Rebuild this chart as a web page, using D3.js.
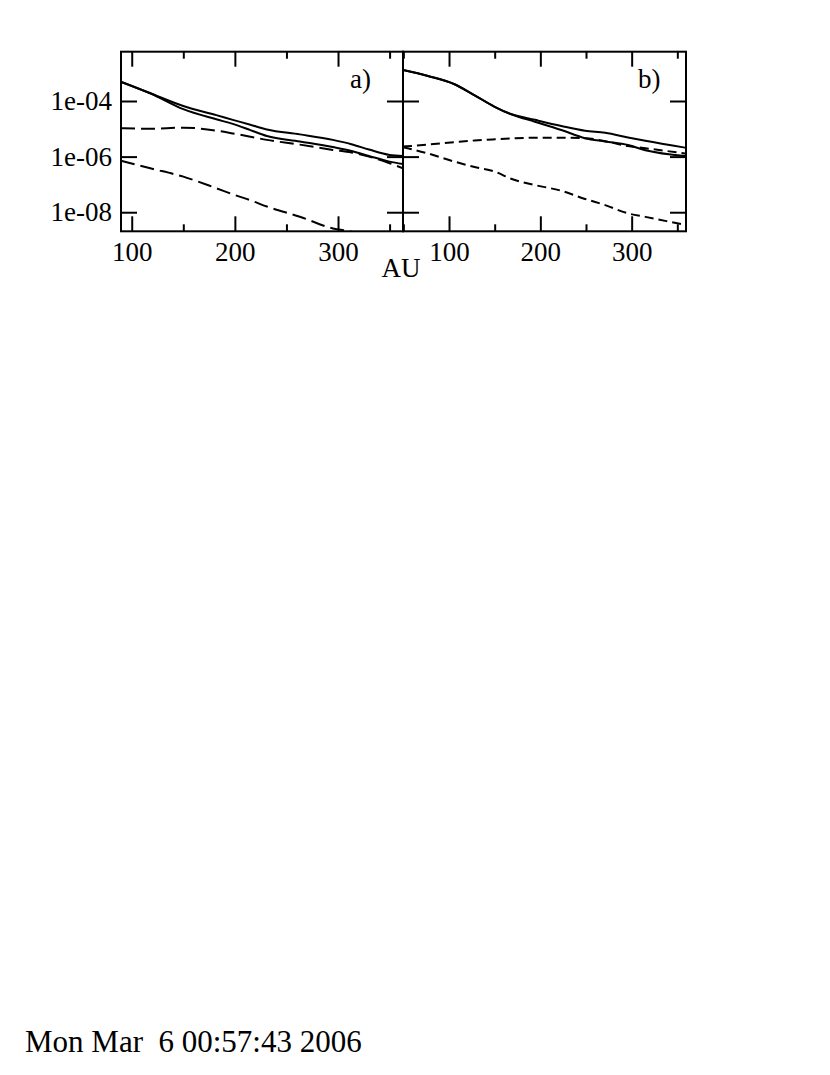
<!DOCTYPE html>
<html>
<head>
<meta charset="utf-8">
<script src="https://cdn.jsdelivr.net/npm/d3@7"></script>
<style>
  html, body { margin: 0; padding: 0; background: #fff; }
  svg { display: block; }
  text { font-family: "Liberation Serif", "DejaVu Serif", serif; fill: #000; }
</style>
</head>
<body>
<svg id="chart" width="830" height="1075"></svg>
<script>
// ---------------- DATA ----------------
// Panel a) x in AU, values (log-scale)
const auA = [89.6, 118, 150, 182, 198, 215, 231, 263, 295, 313, 330, 350, 363];
const aSolidUpper = [4.9e-4, 1.9e-4, 6.6e-5, 3.1e-5, 2.1e-5, 1.4e-5, 9.5e-6, 6.3e-6, 4.0e-6, 2.8e-6, 1.8e-6, 1.15e-6, 1.05e-6];
const aSolidLower = [4.9e-4, 1.9e-4, 5.1e-5, 2.2e-5, 1.5e-5, 9.0e-6, 5.5e-6, 3.5e-6, 2.2e-6, 1.6e-6, 1.05e-6, 6.6e-7, 5.4e-7];
const aDashUpper  = [1.05e-5, 1.0e-5, 1.1e-5, 8.6e-6, 6.8e-6, 5.2e-6, 4.0e-6, 2.7e-6, 1.74e-6, 1.4e-6, 1.0e-6, 5.8e-7, 3.8e-7];
const aDashLower  = [7.1e-7, 3.8e-7, 1.9e-7, 7.3e-8, 4.4e-8, 2.7e-8, 1.6e-8, 6.9e-9, 2.6e-9, 2.0e-9, 1.3e-9, 8.0e-10, 6.0e-10];

// Panel b)
const auB = [49.6, 77, 106, 128, 150, 168, 194, 223, 249, 271, 296, 315, 358.5];
const bSolidUpper = [1.3e-3, 7.9e-4, 4.0e-4, 1.6e-4, 6.2e-5, 3.4e-5, 2.1e-5, 1.26e-5, 8.5e-6, 7.2e-6, 4.9e-6, 3.7e-6, 2.1e-6];
const bSolidLower = [1.3e-3, 7.9e-4, 4.0e-4, 1.6e-4, 6.2e-5, 3.3e-5, 1.8e-5, 9.1e-6, 4.6e-6, 3.5e-6, 2.6e-6, 1.7e-6, 1.05e-6];
const bDashUpper  = [2.3e-6, 2.7e-6, 3.3e-6, 3.8e-6, 4.2e-6, 4.5e-6, 4.8e-6, 4.8e-6, 4.6e-6, 3.6e-6, 2.4e-6, 2.0e-6, 1.3e-6];
const bDashLower  = [2.2e-6, 1.3e-6, 6.6e-7, 4.2e-7, 2.9e-7, 1.6e-7, 9.5e-8, 5.9e-8, 3.0e-8, 1.8e-8, 9.1e-9, 6.8e-9, 3.5e-9];

// Axes
const xDomainA = [89.6, 363];
const xDomainB = [49.6, 359.5];
const yDomain = [2.06e-9, 5.93e-3];
const xMajor = [100, 200, 300];
const xMinor = [50, 150, 250, 350];
const yMajorVals = [1e-4, 1e-6, 1e-8];
const yMajorLabels = ["1e-04", "1e-06", "1e-08"];
const panelLabels = ["a)", "b)"];
const xTitle = "AU";
const footer = "Mon Mar  6 00:57:43 2006";

// ---------------- DRAW ----------------
const svg = d3.select("#chart");
const plotTop = 51.7, plotBottom = 231.3;
const y = d3.scaleLog().domain(yDomain).range([plotBottom, plotTop]);

const panels = [
  { x0: 121, x1: 403, dom: xDomainA, au: auA,
    series: [[aSolidUpper, null], [aSolidLower, null], [aDashUpper, "14,6"], [aDashLower, "14,6"]],
    label: panelLabels[0], lx: 350, showY: true },
  { x0: 403, x1: 686, dom: xDomainB, au: auB,
    series: [[bSolidUpper, null], [bSolidLower, null], [bDashUpper, "9,5"], [bDashLower, "9,5"]],
    label: panelLabels[1], lx: 638, showY: false }
];

const FS = 27;

panels.forEach((p, i) => {
  const x = d3.scaleLinear().domain(p.dom).range([p.x0, p.x1]);
  const g = svg.append("g");
  const clipId = "clip" + i;
  svg.append("defs").append("clipPath").attr("id", clipId)
    .append("rect").attr("x", p.x0).attr("y", plotTop).attr("width", p.x1 - p.x0).attr("height", plotBottom - plotTop);

  const line = d3.line()
    .x((d, k) => x(p.au[k]))
    .y(d => y(d))
    .curve(d3.curveMonotoneX);

  p.series.forEach(([vals, dash]) => {
    g.append("path")
      .datum(vals)
      .attr("clip-path", `url(#${clipId})`)
      .attr("fill", "none")
      .attr("stroke", "#000")
      .attr("stroke-width", 2)
      .attr("stroke-dasharray", dash)
      .attr("d", line);
  });

  const majX = xMajor.filter(v => v >= p.dom[0] && v <= p.dom[1]);
  const minX = xMinor.filter(v => v >= p.dom[0] && v <= p.dom[1]);

  g.append("g").attr("transform", `translate(0,${plotBottom})`)
    .call(d3.axisBottom(x).tickValues(majX).tickSize(-15).tickPadding(11).tickFormat(d3.format("d")));
  g.append("g").attr("transform", `translate(0,${plotBottom})`)
    .call(d3.axisBottom(x).tickValues(minX).tickSize(-7).tickFormat(""));
  g.append("g").attr("transform", `translate(0,${plotTop})`)
    .call(d3.axisTop(x).tickValues(majX).tickSize(-15).tickFormat(""));
  g.append("g").attr("transform", `translate(0,${plotTop})`)
    .call(d3.axisTop(x).tickValues(minX).tickSize(-7).tickFormat(""));
  g.append("g").attr("transform", `translate(${p.x0},0)`)
    .call(d3.axisLeft(y).tickValues(yMajorVals).tickSize(-16).tickPadding(9)
      .tickFormat((d, k) => p.showY ? yMajorLabels[k] : ""));
  g.append("g").attr("transform", `translate(${p.x1},0)`)
    .call(d3.axisRight(y).tickValues(yMajorVals).tickSize(-16).tickFormat(""));

  g.selectAll(".domain").remove();
  g.selectAll(".tick line").attr("stroke", "#000").attr("stroke-width", 2);
  g.selectAll(".tick text").attr("font-family", "Liberation Serif").attr("font-size", FS).attr("fill", "#000");

  g.append("rect").attr("x", p.x0).attr("y", plotTop).attr("width", p.x1 - p.x0).attr("height", plotBottom - plotTop)
    .attr("fill", "none").attr("stroke", "#000").attr("stroke-width", 2);

  g.append("text").attr("x", p.lx).attr("y", 88).attr("font-size", FS)
    .attr("font-family", "Liberation Serif").text(p.label);
});

svg.append("text").attr("x", 401).attr("y", 277).attr("text-anchor", "middle")
  .attr("font-family", "Liberation Serif").attr("font-size", FS).text(xTitle);

svg.append("text").attr("x", 25).attr("y", 1052).attr("font-size", 31)
  .attr("font-family", "Liberation Serif")
  .attr("xml:space", "preserve").style("white-space", "pre").text(footer);
</script>
</body>
</html>
